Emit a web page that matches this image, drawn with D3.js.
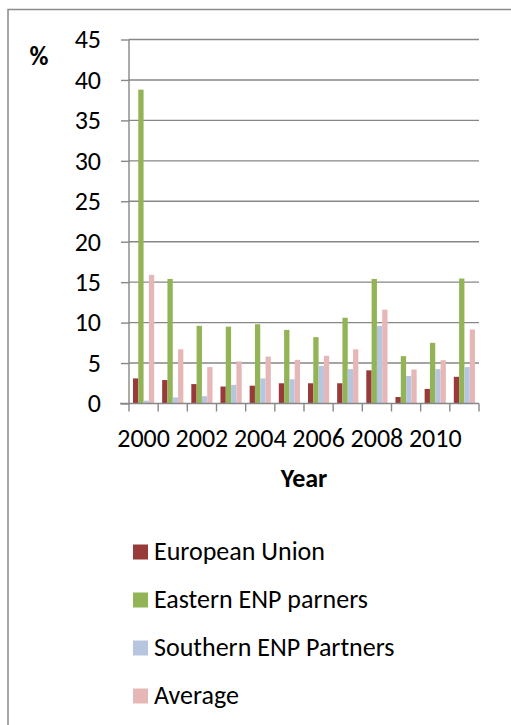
<!DOCTYPE html>
<html><head><meta charset="utf-8">
<script src="https://cdn.jsdelivr.net/npm/d3@7"></script>
<style>body{margin:0;background:#fff;} svg{display:block;}</style>
</head><body>
<script>
const years = [2000,2001,2002,2003,2004,2005,2006,2007,2008,2009,2010,2011];
const tickLabels = ["2000","2002","2004","2006","2008","2010"];
const seriesNames = ["European Union","Eastern ENP parners","Southern ENP Partners","Average"];
const euValues = [3.1,2.9,2.4,2.1,2.2,2.5,2.5,2.5,4.1,0.8,1.8,3.3];
const eastValues = [38.8,15.4,9.6,9.5,9.8,9.1,8.2,10.6,15.4,5.85,7.5,15.45];
const southValues = [0.35,0.75,0.9,2.3,3.1,3.0,4.65,4.25,9.6,3.4,4.25,4.5];
const avgValues = [15.9,6.7,4.5,5.2,5.8,5.4,5.9,6.7,11.6,4.2,5.35,9.15];
const yTicks = [0,5,10,15,20,25,30,35,40,45];
const colors = ["#983a3a","#92b456","#b7c6df","#e5b8b7"];

const W=511,H=725;
const font="Carlito, Calibri, 'Open Sans', sans-serif";
const svg=d3.select("body").append("svg").attr("width",W).attr("height",H);
svg.append("rect").attr("x",8).attr("y",9.5).attr("width",W+10).attr("height",H+10)
  .attr("fill","#fff").attr("stroke","#8a8a8a").attr("stroke-width",1.5);

const pLeft=129,pRight=479,pTop=39.5,pBottom=403.5;
const x=d3.scaleBand().domain(years).range([pLeft,pRight]).paddingInner(0).paddingOuter(0);
const y=d3.scaleLinear().domain([0,45]).range([pBottom,pTop]);
const series=[euValues,eastValues,southValues,avgValues];
const bw=x.bandwidth()/5.5;

// gridlines
svg.append("g").selectAll("line").data(yTicks.filter(d=>d>0)).join("line")
  .attr("x1",pLeft).attr("x2",pRight).attr("y1",d=>y(d)).attr("y2",d=>y(d))
  .attr("stroke","#878787").attr("stroke-width",1.4);

// bars
series.forEach((vals,si)=>{
  svg.append("g").selectAll("rect").data(years).join("rect")
    .attr("x",(d)=>x(d)+bw*0.75+si*bw).attr("width",bw)
    .attr("y",(d,i)=>y(vals[i])).attr("height",(d,i)=>pBottom-y(vals[i]))
    .attr("fill",colors[si]);
});

// y axis
const ya=svg.append("g").attr("transform",`translate(${pLeft},0)`)
  .call(d3.axisLeft(y).tickValues(yTicks).tickSize(8).tickPadding(20));
ya.select(".domain").attr("stroke","#878787").attr("stroke-width",1.4).attr("d",`M0,${pTop}V${pBottom}`);
ya.selectAll(".tick line").attr("stroke","#878787").attr("stroke-width",1.4);
ya.selectAll(".tick text").attr("font-family",font).attr("font-size",26).attr("fill","#000");

// x axis
const xa=svg.append("g").attr("transform",`translate(0,${pBottom})`)
  .call(d3.axisBottom(x).tickValues([]).tickSize(0));
xa.select(".domain").attr("stroke","#878787").attr("stroke-width",1.4).attr("d",`M${pLeft-9},0H${pRight}`);
const bounds=years.map(d=>x(d)).concat([pRight]);
xa.selectAll("line.cat").data(bounds).join("line").attr("class","cat")
  .attr("x1",d=>d).attr("x2",d=>d).attr("y1",0).attr("y2",8)
  .attr("stroke","#878787").attr("stroke-width",1.4);
svg.append("g").selectAll("text").data(tickLabels).join("text")
  .attr("x",d=>x(+d)+x.bandwidth()/2).attr("y",447)
  .attr("text-anchor","middle").attr("font-family",font).attr("font-size",26).text(d=>d);

// axis titles
svg.append("text").attr("x",39).attr("y",65).attr("text-anchor","middle")
  .attr("font-family",font).attr("font-size",26).attr("font-weight","bold").text("%");
svg.append("text").attr("x",(pLeft+pRight)/2).attr("y",487).attr("text-anchor","middle")
  .attr("font-family",font).attr("font-size",26).attr("font-weight","bold").text("Year");

// legend
const lg=svg.append("g").selectAll("g").data(seriesNames).join("g")
  .attr("transform",(d,i)=>`translate(133,${552+i*48})`);
lg.append("rect").attr("x",0).attr("y",-7.5).attr("width",15).attr("height",15).attr("fill",(d,i)=>colors[i]);
lg.append("text").attr("x",21).attr("y",7.5).attr("font-family",font).attr("font-size",26).text(d=>d);
</script>
</body></html>
